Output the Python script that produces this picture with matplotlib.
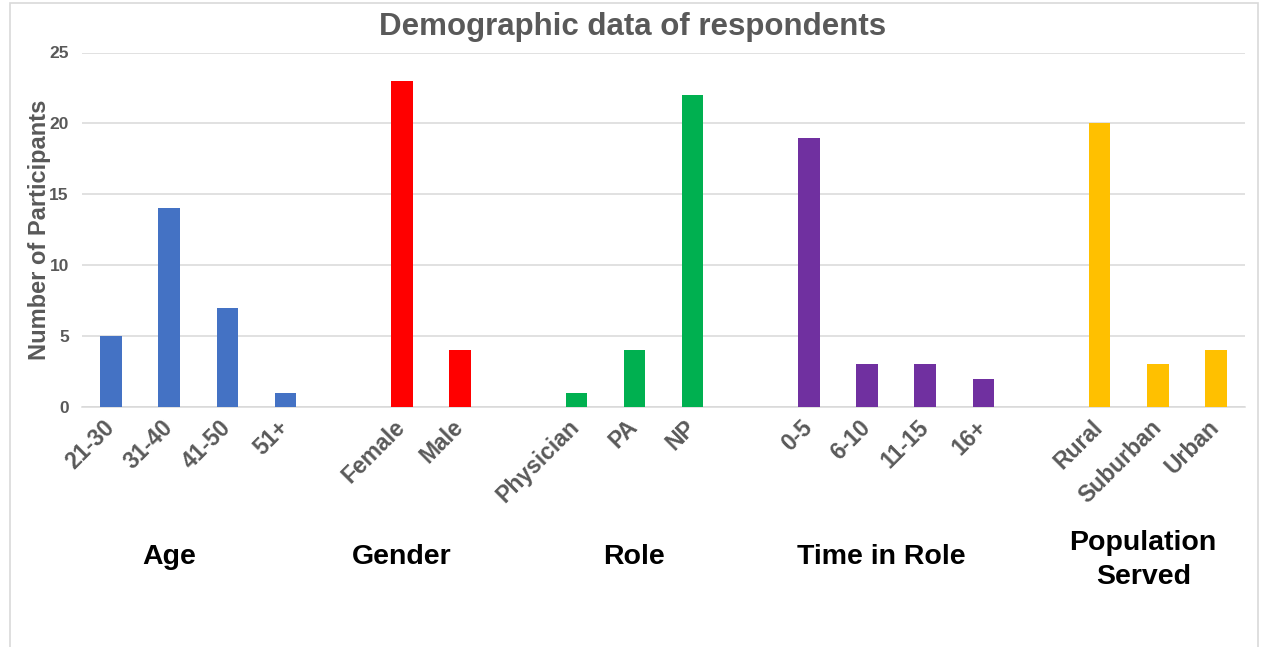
import matplotlib
matplotlib.use("Agg")
import matplotlib.pyplot as plt
from matplotlib.patches import Rectangle

plt.rcParams['font.family'] = ['Liberation Sans', 'DejaVu Sans']

# Category labels and counts for each group
age_labels = ["21-30", "31-40", "41-50", "51+"]
age_values = [5, 14, 7, 1]
gender_labels = ["Female", "Male"]
gender_values = [23, 4]
role_labels = ["Physician", "PA", "NP"]
role_values = [1, 4, 22]
time_labels = ["0-5", "6-10", "11-15", "16+"]
time_values = [19, 3, 3, 2]
pop_labels = ["Rural", "Suburban", "Urban"]
pop_values = [20, 3, 4]

group_names = ["Age", "Gender", "Role", "Time in Role", "Population\nServed"]
group_colors = ["#4472C4", "#FF0000", "#00B050", "#7030A0", "#FFC000"]
groups = [
    (age_labels, age_values),
    (gender_labels, gender_values),
    (role_labels, role_values),
    (time_labels, time_values),
    (pop_labels, pop_values),
]
y_ticks = [0, 5, 10, 15, 20, 25]

fig = plt.figure(figsize=(12.62, 6.47), dpi=100)
fig.patch.set_facecolor("white")

# outer chart frame
fig.add_artist(Rectangle((10 / 1262, -0.01), 1248 / 1262, 1 - 3 / 647 + 0.01,
                         transform=fig.transFigure, fill=False,
                         edgecolor="#d9d9d9", linewidth=1.2))

ax = fig.add_axes([82 / 1262, 1 - 407 / 647, (1245 - 82) / 1262, (407 - 52.5) / 647])

positions, labels, heights, colors = [], [], [], []
pos = 0
for (labs, vals), col in zip(groups, group_colors):
    for lab, v in zip(labs, vals):
        positions.append(pos)
        labels.append(lab)
        heights.append(v)
        colors.append(col)
        pos += 1
    pos += 1  # spacer slot between groups

ax.bar(positions, heights, width=0.37, color=colors, zorder=3)

ax.set_xlim(-0.5, 19.5)
ax.set_ylim(0, 25)
ax.set_yticks(y_ticks)
ax.yaxis.grid(True, color="#d9d9d9", linewidth=1.1, zorder=0)
ax.set_axisbelow(True)
for s in ["top", "right", "left"]:
    ax.spines[s].set_visible(False)
ax.spines["bottom"].set_color("#d9d9d9")
ax.spines["bottom"].set_linewidth(1.1)

ax.set_xticks(positions)
ax.set_xticklabels(labels, rotation=45, ha="right", va="center",
                   rotation_mode="anchor",
                   fontsize=16.5, fontweight="bold", color="#595959")
ax.tick_params(axis="x", length=0, pad=12)
ax.tick_params(axis="y", length=0, pad=9.5, labelsize=12.5, labelcolor="#595959")
for t in ax.get_yticklabels():
    t.set_fontweight("bold")

ax.set_ylabel("Number of Participants", fontsize=17, fontweight="bold",
              color="#595959", labelpad=-1)

fig.text(633 / 1262, 1 - 27 / 647, "Demographic data of respondents",
         ha="center", va="center", fontsize=22.5, fontweight="bold",
         color="#595959")

# group captions beneath the tick labels
caption_x = [1.0, 5.0, 9.0, 13.25, 17.75]
fig.canvas.draw()
for name, cx in zip(group_names, caption_x):
    xf = ax.transData.transform((cx, 0))[0] / fig.bbox.width
    yp = 560 if "\n" in name else 557
    fig.text(xf, 1 - yp / 647, name,
             ha="center", va="center", fontsize=20.5, fontweight="bold",
             color="black", linespacing=1.4)

fig.savefig("out.png", dpi=100, facecolor="white")
